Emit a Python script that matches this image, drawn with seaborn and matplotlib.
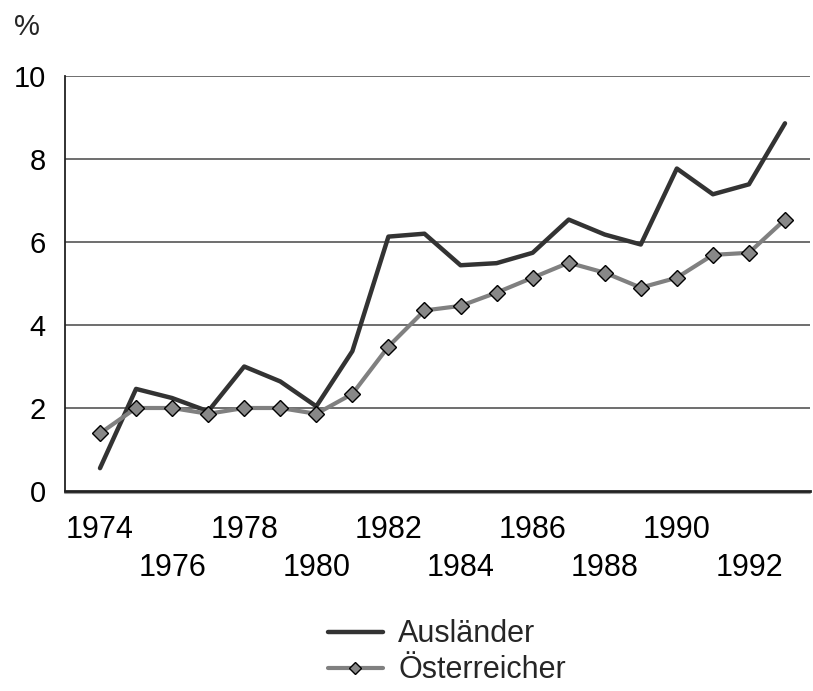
import pandas as pd
import matplotlib
matplotlib.use("Agg")
import matplotlib.pyplot as plt
import seaborn as sns

sns.set_theme(style="white")
plt.rcParams['font.family'] = ['Liberation Sans', 'DejaVu Sans']

## Data ##
years = list(range(1974, 1994))
auslaender = [0.55, 2.46, 2.24, 1.92, 3.0, 2.64, 2.04, 3.37, 6.13, 6.2,
              5.44, 5.49, 5.74, 6.54, 6.18, 5.94, 7.77, 7.15, 7.39, 8.86]
oesterreicher = [1.39, 2.0, 2.0, 1.86, 2.0, 2.0, 1.86, 2.34, 3.48, 4.35,
                 4.46, 4.78, 5.14, 5.5, 5.26, 4.9, 5.14, 5.69, 5.74, 6.54]
top_labels = [1974, 1978, 1982, 1986, 1990]
low_labels = [1976, 1980, 1984, 1988, 1992]
y_ticks = [0, 2, 4, 6, 8, 10]

df = pd.DataFrame({"Jahr": years, "Ausländer": auslaender,
                   "Österreicher": oesterreicher})

fig = plt.figure(figsize=(8.13, 6.91), dpi=100)
ax = fig.add_axes([65/813, 1-491/691, (810-65)/813, (491-76)/691])

# grid lines
for yv in y_ticks[1:]:
    ax.axhline(yv, color="#555555", lw=1.2, zorder=0)

sns.lineplot(data=df, x="Jahr", y="Ausländer", ax=ax, color="#333333",
             lw=3.2, label="Ausländer")
sns.lineplot(data=df, x="Jahr", y="Österreicher", ax=ax, color="#808080",
             lw=3.0, marker="D", markersize=8.5, markerfacecolor="#888888",
             markeredgecolor="black", markeredgewidth=1.0,
             label="Österreicher")

ax.set_xlim(1974 - 35/36.05, 1993 + 25/36.05)
ax.set_ylim(0, 10)
ax.set_yticks(y_ticks)
ax.set_yticklabels([str(v) for v in y_ticks], fontsize=21)
ax.set_xticks(top_labels)
ax.set_xticklabels([str(v) for v in top_labels], fontsize=22)
ax.set_xticks(low_labels, minor=True)
ax.set_xticklabels([str(v) for v in low_labels], minor=True, fontsize=22)
ax.tick_params(axis="x", which="major", length=0, pad=17, colors="black")
ax.tick_params(axis="x", which="minor", length=0, pad=45, colors="black")
ax.tick_params(axis="y", length=0, pad=14, colors="black")
ax.set_xlabel("")
ax.set_ylabel("")

for s in ["top", "right"]:
    ax.spines[s].set_visible(False)
ax.spines["left"].set_color("#222222")
ax.spines["left"].set_linewidth(1.3)
ax.spines["bottom"].set_color("#222222")
ax.spines["bottom"].set_linewidth(2.0)
# light shadow under the category axis
ax.axhline(-0.06, color="#999999", lw=1.5, clip_on=False, zorder=0)

fig.text(27/813, 1-27/691, "%", fontsize=21, ha="center", va="center")

ax.get_legend().remove()
handles, labels = ax.get_legend_handles_labels()
leg = fig.legend(handles, labels, loc="upper center",
                 bbox_to_anchor=(447/813, 1-604/691), frameon=False,
                 fontsize=22, handlelength=1.8, handletextpad=0.5,
                 labelspacing=0.2, borderpad=0, markerscale=0.7)

fig.savefig("out.png", dpi=100)
